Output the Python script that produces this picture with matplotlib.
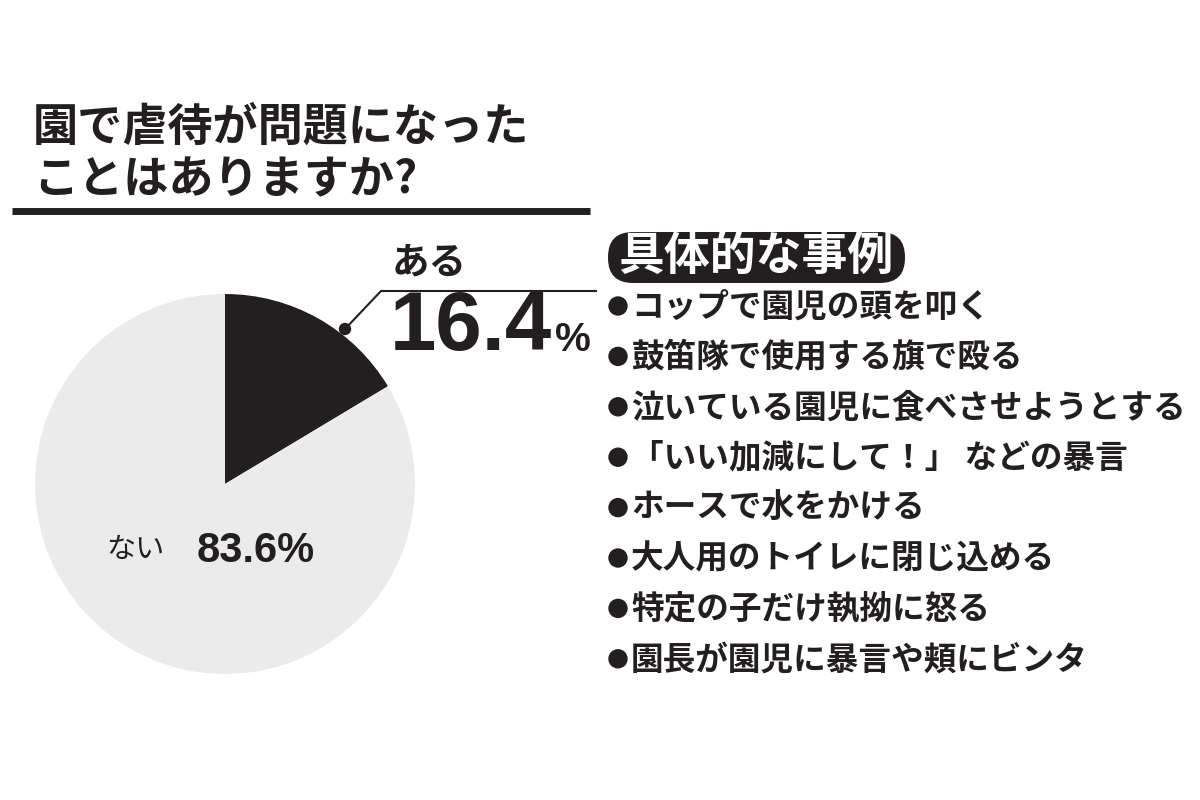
import matplotlib
matplotlib.use("Agg")
import matplotlib.pyplot as plt
from matplotlib.patches import FancyBboxPatch, Circle

# ---- data ----
title_lines = ["園で虐待が問題になった", "ことはありますか?"]
slice_labels = ["ある", "ない"]
slice_values = [16.4, 83.6]
slice_colors = ["#231f20", "#ebebeb"]
examples_header = "具体的な事例"
examples = [
    "コップで園児の頭を叩く",
    "鼓笛隊で使用する旗で殴る",
    "泣いている園児に食べさせようとする",
    "「いい加減にして！」 などの暴言",
    "ホースで水をかける",
    "大人用のトイレに閉じ込める",
    "特定の子だけ執拗に怒る",
    "園長が園児に暴言や頬にビンタ",
]

JP = ["Noto Sans CJK JP", "DejaVu Sans"]
NUM = ["Liberation Sans", "DejaVu Sans"]
DARK = "#231f20"

fig = plt.figure(figsize=(12, 8), dpi=100)
fig.patch.set_facecolor("white")
ax = fig.add_axes([0, 0, 1, 1])

def Y(y):
    return 800 - y

# pie
cx, cy, r = 225, Y(484), 190
ax.pie(slice_values, colors=slice_colors, startangle=90, counterclock=False,
       center=(cx, cy), radius=r, wedgeprops=dict(linewidth=0))
ax.set_xlim(0, 1200)
ax.set_ylim(0, 800)
ax.set_aspect("equal")
ax.axis("off")

# title
ax.text(33, Y(128), title_lines[0], family=JP, weight="bold", fontsize=32.5,
        color=DARK, va="center", ha="left")
ax.text(33, Y(180), title_lines[1], family=JP, weight="bold", fontsize=32.5,
        color=DARK, va="center", ha="left")
ax.plot([12, 590], [Y(211), Y(211)], color=DARK, lw=5, solid_capstyle="butt")

# leader for "ある"
ax.plot([345, 381, 596], [Y(329), Y(291), Y(291)], color=DARK, lw=1.5)
ax.add_patch(Circle((345, Y(329)), 5.5, color=DARK, zorder=5))
ax.text(392, Y(262), slice_labels[0], family=JP, weight="bold", fontsize=27,
        color=DARK, va="center", ha="left")
big = ax.text(390, Y(328), f"{slice_values[0]}", family=NUM, weight="bold",
              fontsize=60, color=DARK, va="center", ha="left")
fig.canvas.draw()
bb = big.get_window_extent()
ax.text(bb.x1 + 3, Y(340), "%", family=NUM, weight="bold", fontsize=29,
        color=DARK, va="center", ha="left")

# "ない"
ax.text(106, Y(550), slice_labels[1], family=JP, fontsize=21,
        color=DARK, va="center", ha="left")
ax.text(197, Y(551), f"{slice_values[1]}%", family=NUM, weight="bold", fontsize=30,
        color=DARK, va="center", ha="left")

# examples header pill
ax.add_patch(FancyBboxPatch((608, Y(283)), 297, 51,
                            boxstyle="round,pad=0,rounding_size=25",
                            fc=DARK, ec="none"))
ax.text(756, Y(257), examples_header, family=JP, weight="bold", fontsize=33,
        color="white", va="center", ha="center")

# example items
y0, dy = 307, 50.4
for i, item in enumerate(examples):
    yy = Y(y0 + i * dy)
    ax.add_patch(Circle((618, yy + 1), 9, color=DARK))
    ax.text(631, yy, item, family=JP, weight="bold",
            fontsize=23.5, color=DARK, va="center", ha="left")

fig.savefig("out.png", dpi=100, facecolor="white")
